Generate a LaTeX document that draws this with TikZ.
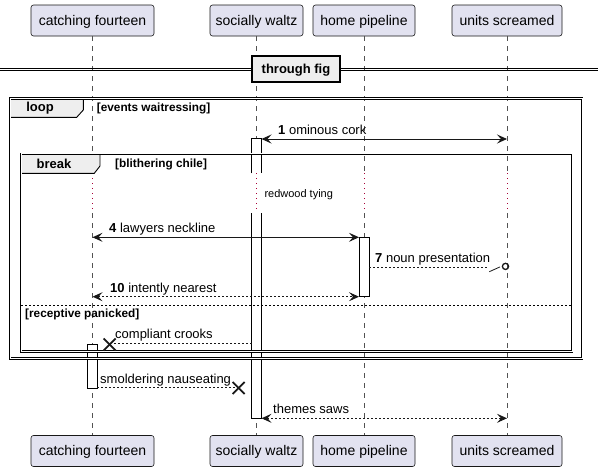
\documentclass[tikz,border=0pt]{standalone}
\usepackage{fontspec}
\setmainfont{Liberation Sans}
\usetikzlibrary{arrows.meta,calc}
\definecolor{partfill}{HTML}{E2E2F0}
\definecolor{ink}{HTML}{181818}
\definecolor{tabfill}{HTML}{EEEEEE}
\definecolor{delayc}{HTML}{A80036}
\begin{document}
\begin{tikzpicture}[x=1pt,y=-1pt,
  part/.style={draw=ink, fill=partfill, rounded corners=2.5pt, line width=0.6pt, minimum height=31pt, inner sep=0pt, font=\fontsize{14}{16}\selectfont, text height=11pt, text depth=2pt},
  lifeline/.style={draw=ink!75, line width=0.6pt, dash pattern=on 5pt off 5pt},
  delayline/.style={draw=delayc, line width=0.8pt, dash pattern=on 1pt off 4pt},
  msg/.style={draw=ink, line width=0.9pt},
  dmsg/.style={msg, dash pattern=on 2pt off 2pt},
  tip/.style={-{Stealth[length=10pt,width=9pt,inset=4pt]}},
  both/.style={{Stealth[length=10pt,width=9pt,inset=4pt]}-{Stealth[length=10pt,width=9pt,inset=4pt]}},
  lbl/.style={anchor=base west, inner sep=0pt, font=\fontsize{13}{15}\selectfont},
  cond/.style={anchor=base west, inner sep=0pt, font=\bfseries\fontsize{11.8}{13}\selectfont},
  head/.style={anchor=base, inner sep=0pt, font=\bfseries\fontsize{13}{15}\selectfont},
  frame/.style={draw=black, line width=0.85pt, double, double distance=0.9pt},
  tabbox/.style={draw=black, fill=tabfill, line width=0.9pt},
  bar/.style={draw=black, fill=white, line width=0.8pt},
  xmark/.style={draw=ink, line width=1.8pt},
  divbox/.style={draw=black, fill=tabfill, line width=1.5pt, minimum width=88pt, minimum height=26pt, inner sep=0pt, font=\bfseries\fontsize{13}{15}\selectfont, text height=9.5pt, text depth=1.5pt},
]
\useasboundingbox (0,0) rectangle (598,472);
\fill[white] (0,0) rectangle (598,472);

% participants
\node[part, minimum width=123pt] (cf)  at (92.5,20.5) {catching fourteen};
\node[part, minimum width=93pt]  (sw)  at (256.5,20.5) {socially waltz};
\node[part, minimum width=102pt] (hp)  at (364,20.5) {home pipeline};
\node[part, minimum width=110pt] (us)  at (507,20.5) {units screamed};
\node[part, minimum width=123pt] (cfb) at (92.5,451) {catching fourteen};
\node[part, minimum width=93pt]  (swb) at (256.5,451) {socially waltz};
\node[part, minimum width=102pt] (hpb) at (364,451) {home pipeline};
\node[part, minimum width=110pt] (usb) at (507,451) {units screamed};

% delay coordinates
\foreach \n/\x in {cf/92.5, sw/256.5, hp/364, us/507} {
  \coordinate (\n d1) at (\x,173.3);
  \coordinate (\n d2) at (\x,213);
}
\draw[lifeline] (cf.south) -- (cfd1);  \draw[lifeline] (cfd2) -- (cfb.north);
\draw[lifeline] (sw.south) -- (swd1);  \draw[lifeline] (swd2) -- (swb.north);
\draw[lifeline] (hp.south) -- (hpd1);  \draw[lifeline] (hpd2) -- (hpb.north);
\draw[lifeline] (us.south) -- (usd1);  \draw[lifeline] (usd2) -- (usb.north);
\draw[delayline] (cfd1) -- (cfd2);
\draw[delayline] (swd1) -- (swd2);
\draw[delayline] (hpd1) -- (hpd2);
\draw[delayline] (usd1) -- (usd2);

% activation bars
\filldraw[bar] (251.5,173.3) -- (251.5,138.5) -- (261.5,138.5) -- (261.5,173.3);
\filldraw[bar] (251.5,213) -- (251.5,418.3) -- (261.5,418.3) -- (261.5,213);
\filldraw[bar] (359,237.3) rectangle (369,296.7);
\filldraw[bar] (87.3,344) rectangle (97.3,388);

% divider
\draw[black, line width=1.1pt] (0,68.3) -- (598,68.3);
\draw[black, line width=1.1pt] (0,70.7) -- (598,70.7);
\node[divbox] (div) at (296,69) {through fig};

% loop frame
\filldraw[tabbox] (10,98.7) -- (83.3,98.7) -- (83.3,110) -- (76.7,117.3) -- (10,117.3) -- cycle;
\draw[frame] (10,98.7) rectangle (582,358.5);
\node[head] (looph) at (40,111.7) {loop};
\node[cond] (loopc) at (96.7,111.7) {[events waitressing]};

% break frame
\filldraw[tabbox] (21,153.8) -- (100,153.8) -- (100,166) -- (94.3,173.3) -- (21,173.3) -- cycle;
\draw[frame] (21,153.8) rectangle (572,351.7);
\node[head] (breakh) at (54,168.3) {break};
\node[cond] (breakc) at (115,167.7) {[blithering chile]};

% else separator
\coordinate (elseL) at (21,305.7);
\coordinate (elseR) at (572,305.7);
\draw[black, line width=0.8pt, dash pattern=on 2pt off 2pt] (elseL) -- (elseR);
\node[cond] (elsec) at (25,317) {[receptive panicked]};

% delay text
\node[anchor=base west, inner sep=0pt, font=\fontsize{11}{13}\selectfont] (delay) at (264.3,197.3) {redwood tying};

% message 1
\coordinate (m1a) at (261.5,139);
\coordinate (m1b) at (507,139);
\draw[msg, both] (m1a) -- (m1b);
\node[lbl] (l1) at (278,134.7) {\textbf{1} ominous cork};

% message 4
\coordinate (m4a) at (92.5,237.3);
\coordinate (m4b) at (359,237.3);
\draw[msg, both] (m4a) -- (m4b);
\node[lbl] (l4) at (109,232.5) {\textbf{4} lawyers neckline};

% message 7
\coordinate (m7a) at (369,267.2);
\coordinate (m7b) at (488.5,267.2);
\coordinate (m7c) at (505.5,266.4);
\draw[dmsg] (m7a) -- (m7b);
\draw[ink, line width=0.8pt] (489.3,271.7) -- (500,266.9);
\draw[ink, line width=1.3pt] (m7c) circle (3.1pt);
\node[lbl] (l7) at (375,262) {\textbf{7} noun presentation};

% message 10
\coordinate (m10a) at (92.5,296.7);
\coordinate (m10b) at (359,296.7);
\draw[dmsg, both] (m10a) -- (m10b);
\node[lbl] (l10) at (110,292.3) {\textbf{10} intently nearest};

% compliant crooks
\coordinate (mca) at (251.5,343.3);
\coordinate (mcx) at (109.7,344.5);
\draw[dmsg] (mca) -- (112,343.3);
\draw[xmark] ($(mcx)+(-6,-6)$) -- ($(mcx)+(6,6)$);
\draw[xmark] ($(mcx)+(-6,6)$) -- ($(mcx)+(6,-6)$);
\node[lbl] (lc) at (115,338.5) {compliant crooks};

% smoldering nauseating
\coordinate (msa) at (97.3,387.7);
\coordinate (msx) at (238.7,388);
\draw[dmsg] (msa) -- (236,387.7);
\draw[xmark] ($(msx)+(-6,-6)$) -- ($(msx)+(6,6)$);
\draw[xmark] ($(msx)+(-6,6)$) -- ($(msx)+(6,-6)$);
\node[lbl] (ls) at (100,383.3) {smoldering nauseating};

% themes saws
\coordinate (mta) at (261.5,418.3);
\coordinate (mtb) at (507,418.3);
\draw[dmsg, both] (mta) -- (mtb);
\node[lbl] (lt) at (273,413.5) {themes saws};
\end{tikzpicture}
\end{document}
